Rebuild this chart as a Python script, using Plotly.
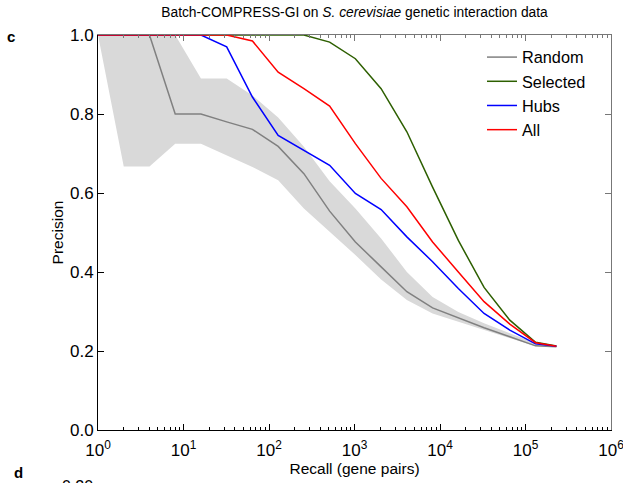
import plotly.graph_objects as go

recall = [1, 2, 4, 8, 16, 32, 64, 128, 256, 512, 1024, 2048, 4096, 8192,
          16384, 32768, 65536, 131072, 230000]

random_prec = [1.0, 1.0, 1.0, 0.80, 0.80, 0.78, 0.761, 0.718, 0.649, 0.554, 0.476,
               0.413, 0.350, 0.309, 0.283, 0.259, 0.236, 0.213, 0.211]
random_upper = [1.0, 1.0, 1.0, 1.0, 0.89, 0.89, 0.847, 0.791, 0.717, 0.630, 0.561,
                0.485, 0.400, 0.337, 0.299, 0.270, 0.245, 0.220, 0.211]
random_lower = [1.0, 0.667, 0.667, 0.725, 0.725, 0.696, 0.666, 0.632, 0.561, 0.502,
                0.443, 0.381, 0.329, 0.295, 0.274, 0.253, 0.232, 0.212, 0.211]
selected_prec = [1.0, 1.0, 1.0, 1.0, 1.0, 1.0, 1.0, 1.0, 1.0, 0.982, 0.940, 0.864,
                 0.755, 0.615, 0.480, 0.361, 0.278, 0.222, 0.213]
hubs_prec = [1.0, 1.0, 1.0, 1.0, 1.0, 0.970, 0.843, 0.746, 0.708, 0.670, 0.599,
             0.558, 0.489, 0.426, 0.358, 0.295, 0.253, 0.218, 0.212]
all_prec = [1.0, 1.0, 1.0, 1.0, 1.0, 1.0, 0.985, 0.906, 0.864, 0.820, 0.725, 0.637,
            0.565, 0.476, 0.400, 0.325, 0.268, 0.221, 0.212]

x_tickvals = [1, 10, 100, 1000, 10000, 100000, 1000000]
x_ticktext = ["10<sup>0</sup>", "10<sup>1</sup>", "10<sup>2</sup>", "10<sup>3</sup>",
              "10<sup>4</sup>", "10<sup>5</sup>", "10<sup>6</sup>"]
y_tickvals = [0.0, 0.2, 0.4, 0.6, 0.8, 1.0]
y_ticktext = ["0.0", "0.2", "0.4", "0.6", "0.8", "1.0"]

FONT = "Liberation Sans, Arial, sans-serif"

fig = go.Figure()
fig.add_trace(go.Scatter(x=recall, y=random_upper, mode="lines", line=dict(width=0),
                         showlegend=False, hoverinfo="skip"))
fig.add_trace(go.Scatter(x=recall, y=random_lower, mode="lines", line=dict(width=0),
                         fill="tonexty", fillcolor="#d9d9d9", showlegend=False,
                         hoverinfo="skip"))
series = [("Random", random_prec, "#808080"),
          ("Selected", selected_prec, "#2d5f00"),
          ("Hubs", hubs_prec, "#0000ff"),
          ("All", all_prec, "#ff0000")]
for name, vals, col in series:
    fig.add_trace(go.Scatter(x=recall, y=vals, mode="lines", name=name,
                             legendgroup=name, line=dict(color=col, width=1.5)))

# invisible trace for top/right mirror axes
fig.add_trace(go.Scatter(x=[1], y=[0], xaxis="x2", yaxis="y2", mode="markers",
                         marker=dict(opacity=0), showlegend=False, hoverinfo="skip"))

L, R, T, B = 98, 12, 35, 53
W, H = 623, 483
pw = W - L - R
ph = H - T - B

def px_x(p):
    return (p - L) / pw

def px_y(p):
    return (H - B - p) / ph

common_x = dict(type="log", range=[0, 6], showgrid=False, zeroline=False,
                ticks="inside", ticklen=6, tickwidth=1, automargin=False,
                minor=dict(ticks="inside", ticklen=3, dtick="D1", showgrid=False))
fig.update_layout(
    width=W, height=H,
    margin=dict(l=L, r=R, t=T, b=B, autoexpand=False),
    paper_bgcolor="white", plot_bgcolor="white",
    font=dict(family=FONT, size=14, color="black"),
    title=dict(text="Batch-COMPRESS-GI on <i>S. cerevisiae</i> genetic interaction data",
               x=px_x(354.5), xref="paper", y=1 - 12 / H, yanchor="middle",
               xanchor="center", font=dict(size=13.8, family=FONT)),
    xaxis=dict(**common_x, tickvals=x_tickvals, ticktext=x_ticktext,
               showline=True, linecolor="black", linewidth=1, tickcolor="black",
               ticklabeloverflow="allow", ticklabelstandoff=5,
               title=dict(text="Recall (gene pairs)", standoff=0, font=dict(size=15.5)),
               tickfont=dict(size=17)),
    xaxis2=dict(**common_x, tickvals=x_tickvals, overlaying="x", side="top",
                anchor="y", showticklabels=False, showline=True,
                linecolor="#777777", tickcolor="#777777", linewidth=1),
    yaxis=dict(range=[0, 1], showgrid=False, zeroline=False, ticks="inside",
               ticklen=6, tickvals=y_tickvals, ticktext=y_ticktext, automargin=False,
               showline=True, linecolor="black", linewidth=1, tickcolor="black",
               title=dict(text="Precision", standoff=2, font=dict(size=15.5)),
               tickfont=dict(size=17)),
    yaxis2=dict(range=[0, 1], showgrid=False, zeroline=False, ticks="inside",
                ticklen=6, tickvals=y_tickvals, overlaying="y", side="right",
                anchor="x", showticklabels=False, showline=True, automargin=False,
                linecolor="#777777", tickcolor="#777777", linewidth=1),
    legend=dict(x=px_x(482), y=px_y(40), xanchor="left", yanchor="top",
                bgcolor="rgba(0,0,0,0)", borderwidth=0, tracegroupgap=0,
                font=dict(size=16.3, family=FONT)),
    showlegend=True,
)

fig.add_annotation(text="<b>c</b>", xref="paper", yref="paper", x=px_x(11), y=px_y(36),
                   xanchor="center", yanchor="middle", showarrow=False,
                   font=dict(size=15, family=FONT))
fig.add_annotation(text="<b>d</b>", xref="paper", yref="paper", x=px_x(18), y=px_y(473),
                   xanchor="center", yanchor="middle", showarrow=False,
                   font=dict(size=15, family=FONT))
fig.add_annotation(text="0.20", xref="paper", yref="paper", x=px_x(95), y=px_y(476),
                   xanchor="right", yanchor="top", showarrow=False,
                   font=dict(size=16, family=FONT))

fig.write_html("out.html")
